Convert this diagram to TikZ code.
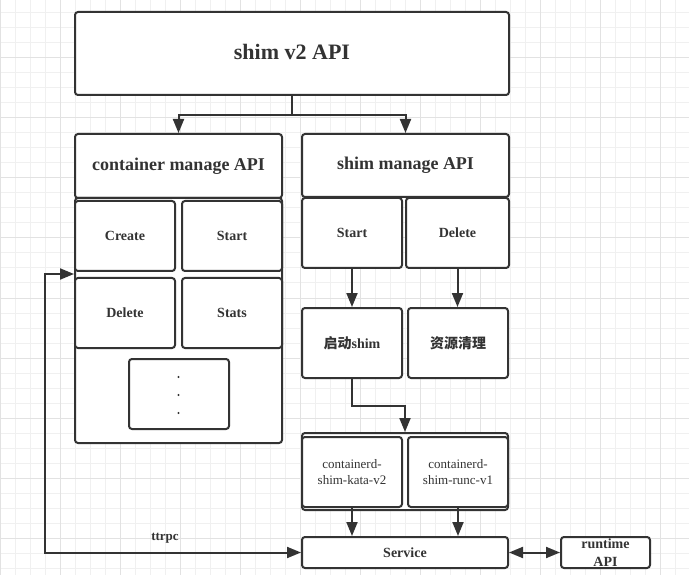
\documentclass[tikz,border=0pt]{standalone}
\usepackage{fontspec}
\setmainfont{Liberation Serif}
\newfontfamily\cjk{Noto Sans CJK SC}
\usetikzlibrary{arrows.meta}
\definecolor{ink}{HTML}{333333}
\definecolor{gminor}{HTML}{F0F0F0}
\definecolor{gmajor}{HTML}{E2E2E2}
\tikzset{
  box/.style={draw=ink, line width=2pt, rounded corners=3pt, fill=white, text=ink,
    font=\bfseries\fontsize{14}{17}\selectfont, align=center, inner sep=0pt},
  plainbox/.style={box, font=\fontsize{13}{16}\selectfont},
  tip/.tip={Triangle[length=14pt,width=11pt]},
  conn/.style={draw=ink, line width=2pt, -tip},
  dconn/.style={draw=ink, line width=2pt, tip-tip},
  lbl/.style={text=ink, font=\bfseries\fontsize{13}{16}\selectfont, inner sep=0pt},
}
\begin{document}
\begin{tikzpicture}[x=1pt,y=-1pt]
\useasboundingbox (0,0) rectangle (689,575);
\fill[white] (0,0) rectangle (689,575);
\foreach \x in {0,15,...,690} \draw[gminor, line width=1pt] (\x,0) -- (\x,575);
\foreach \y in {-2,13,...,580} \draw[gminor, line width=1pt] (0,\y) -- (689,\y);
\foreach \x in {0,60,...,690} \draw[gmajor, line width=1pt] (\x,0) -- (\x,575);
\foreach \y in {-2,58,...,580} \draw[gmajor, line width=1pt] (0,\y) -- (689,\y);

% top
\node[box, minimum width=434pt, minimum height=83pt, font=\bfseries\fontsize{22}{26}\selectfont] (v2) at (292,53.5) {\raisebox{3pt}{shim v2 API}};

% container manage
\node[box, minimum width=207pt, minimum height=64pt, font=\bfseries\fontsize{18}{22}\selectfont] (cm) at (178.5,166) {container manage API};
\node[box, minimum width=207pt, minimum height=245pt] (big) at (178.5,320.5) {};
\node[box, minimum width=100pt, minimum height=70pt] (create) at (125,236) {Create};
\node[box, minimum width=100pt, minimum height=70pt] (cstart) at (232,236) {Start};
\node[box, minimum width=100pt, minimum height=70pt] (cdelete) at (125,313) {Delete};
\node[box, minimum width=100pt, minimum height=70pt] (stats) at (232,313) {Stats};
\node[box, minimum width=100pt, minimum height=70pt] (more) at (179,394) {};
\foreach \yy in {377,395,413} \fill[ink] (178.5,\yy) circle (1.1pt);

% shim manage
\node[box, minimum width=207pt, minimum height=63pt, font=\bfseries\fontsize{18}{22}\selectfont] (sm) at (405.5,165.5) {shim manage API};
\node[box, minimum width=100pt, minimum height=70pt] (sstart) at (352,233) {Start};
\node[box, minimum width=103pt, minimum height=70pt] (sdelete) at (457.5,233) {Delete};
\node[box, minimum width=100pt, minimum height=70pt] (boot) at (352,343) {{\cjk 启动}shim};
\node[box, minimum width=100pt, minimum height=70pt] (clean) at (458,343) {\cjk 资源清理};

% shims
\node[box, minimum width=206pt, minimum height=77pt] (group) at (405,471.5) {};
\node[plainbox, minimum width=100pt, minimum height=70pt] (kata) at (352,472) {containerd-\\shim-kata-v2};
\node[plainbox, minimum width=100pt, minimum height=70pt] (runc) at (458,472) {containerd-\\shim-runc-v1};

% bottom
\node[box, minimum width=206pt, minimum height=31pt] (service) at (405,552.5) {Service};
\node[box, minimum width=89pt, minimum height=31pt, font=\bfseries\fontsize{14}{18}\selectfont] (runtime) at (605.5,552.5) {runtime\\API};

% connectors
\draw[conn] (v2.south) -- ++(0,19) -| (cm.north);
\draw[conn] (v2.south) -- ++(0,19) -| (sm.north);
\draw[conn] (sstart.south) -- (sstart.south |- boot.north);
\draw[conn] (sdelete.south) -- (sdelete.south |- clean.north);
\draw[conn] (boot.south) -- ++(0,27) -| (group.north);
\draw[conn] (kata.south) -- (kata.south |- service.north);
\draw[conn] (runc.south) -- (runc.south |- service.north);
\draw[dconn] (service.east) -- (runtime.west);
\coordinate (tt) at (45,274);
\draw[dconn] (service.west) -| (tt) -- (big.west |- tt);
\node[lbl] (ttrpc) at (165,538) {ttrpc};
\end{tikzpicture}
\end{document}
